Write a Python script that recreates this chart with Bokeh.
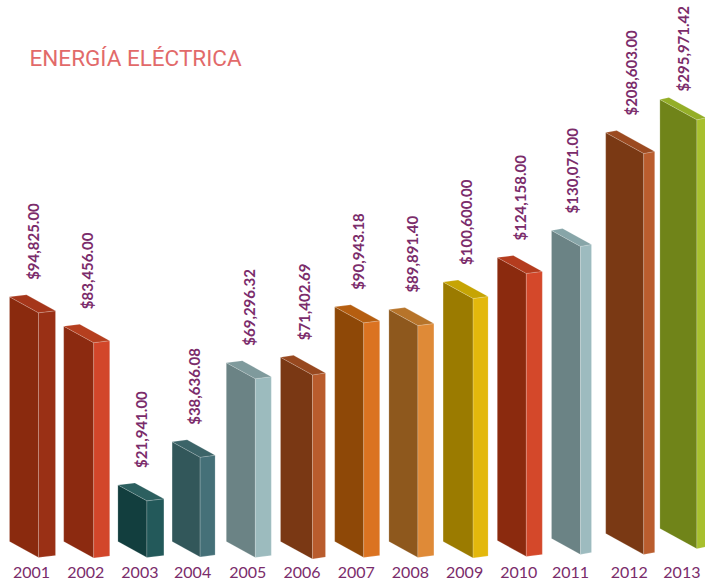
import math
from bokeh.plotting import figure
from bokeh.models import Range1d
from bokeh.core.properties import value
from bokeh.embed import file_html
from bokeh.resources import INLINE

# ---------------- data ----------------
years = ["2001", "2002", "2003", "2004", "2005", "2006", "2007",
         "2008", "2009", "2010", "2011", "2012", "2013"]
amounts = [94825.00, 83456.00, 21941.00, 38636.08, 69296.32, 71402.69,
           90943.18, 89891.40, 100600.00, 124158.00, 130071.00,
           208603.00, 295971.42]
# heights at which the original draws the bars (same units as amounts);
# the original is to scale up to 2009 and compressed from 2010 onward
drawn_heights = [94825.00, 83456.00, 21941.00, 38636.08, 69296.32, 71402.69,
                 90943.18, 89891.40, 100600.00, 109700.0, 119400.0,
                 155400.0, 166300.0]

front_colors = ["#8A2A0E", "#8C2A10", "#123E3E", "#32575A", "#6B8385", "#7A3814",
                "#8E4807", "#8E581D", "#9B7B00", "#8B2A0E", "#6B8385", "#7A3914", "#708419"]
side_colors = ["#9A3015", "#D2462A", "#23595A", "#457078", "#9CBBBE", "#B95C2D",
               "#DB7321", "#DF8A37", "#E3B80C", "#D4482A", "#9DBBBF", "#BA5D2E", "#A8C02E"]
top_colors = ["#A5361A", "#B53F1F", "#2C5F5F", "#3C6468", "#7F9A9C", "#97481F",
              "#B55E10", "#B7742A", "#C6A404", "#B43C1E", "#87A5A8", "#9B4A20", "#94AE27"]

# ---------------- style / geometry ----------------
LABEL_COLOR = "#7B2C6B"
TITLE_COLOR = "#E26A6A"
PX = 387.6          # value units per pixel (vertical)
X0 = 9.0            # left edge of first bar (px)
STEP = 54.2         # spacing between bars (px)
SLOPE = 0.55        # downward slope of front face edges
RISE = 2.0          # upward shift of the depth edge (px)
front_w = [29, 30, 29, 28, 29, 32, 29, 29, 30, 29, 29, 38, 37]
side_w = [17, 16, 17, 15, 16, 13, 16, 16, 15, 16, 11, 11, 9]
base_lift = [0, 0, 0, 0, 0, 0, 0, 0, 0, 1, 3, 8, 13]   # perspective lift (px)
LABEL_GAP = 17      # px between bar top and value label
CHAR_PX = 7.9       # approx. advance of one label character (px)
TOP_PAD = 4         # keep labels this far from the top edge (px)

BASE_REF = 541.0
W_PAGE, H_PAGE = 705, 583
y_top = BASE_REF * PX
y_bot = (BASE_REF - H_PAGE) * PX

p = figure(width=W_PAGE, height=H_PAGE, output_backend="svg", toolbar_location=None,
           x_range=Range1d(0, W_PAGE), y_range=Range1d(y_bot, y_top),
           x_axis_location=None, y_axis_location=None, min_border=0)
p.outline_line_color = None
p.xgrid.visible = False
p.ygrid.visible = False
p.background_fill_color = "white"
p.border_fill_color = "white"

value_labels = ["${:,.2f}".format(a) for a in amounts]

fx, fy, sx, sy, tx, ty = [], [], [], [], [], []
vx, vy, yx = [], [], []
for i, h in enumerate(drawn_heights):
    L = X0 + STEP * i
    W = front_w[i]
    S = side_w[i]
    b = base_lift[i] * PX
    top = b + h
    drop = SLOPE * W * PX
    up = RISE * PX
    fx.append([L, L, L + W, L + W])
    fy.append([b, top, top - drop, b - drop])
    sx.append([L + W, L + W + S, L + W + S, L + W])
    sy.append([top - drop, top - drop + up, b - drop + up, b - drop])
    tx.append([L, L + S, L + W + S, L + W])
    ty.append([top, top + up, top - drop + up, top - drop])
    vx.append(L + (W + S) / 2 + 0.5)
    est_len = CHAR_PX * len(value_labels[i]) * PX
    vy.append(min(top + LABEL_GAP * PX, y_top - TOP_PAD * PX - est_len))
    yx.append(L + (W + S) / 2 - 1)

edge = dict(line_color="#FFFFFF", line_alpha=0.22, line_width=0.8)
p.patches(xs=fx, ys=fy, fill_color=front_colors, **edge)
p.patches(xs=sx, ys=sy, fill_color=side_colors, **edge)
p.patches(xs=tx, ys=ty, fill_color=top_colors, **edge)

p.text(x=vx, y=vy, text=value_labels, angle=math.pi / 2,
       text_align="left", text_baseline="middle",
       text_font=value("Lato"), text_font_size="15px", text_font_style="bold",
       text_color=LABEL_COLOR)

year_y = (BASE_REF - 572.0) * PX
p.text(x=yx, y=[year_y] * len(years), text=years,
       text_align="center", text_baseline="middle",
       text_font=value("Lato"), text_font_size="16px",
       text_color=LABEL_COLOR)

p.text(x=[29], y=[(BASE_REF - 57.0) * PX], text=["ENERGÍA ELÉCTRICA"],
       text_align="left", text_baseline="middle",
       text_font=value("Roboto"), text_font_size="22.5px",
       text_color=TITLE_COLOR)

open("out.html", "w").write(file_html(p, INLINE))
